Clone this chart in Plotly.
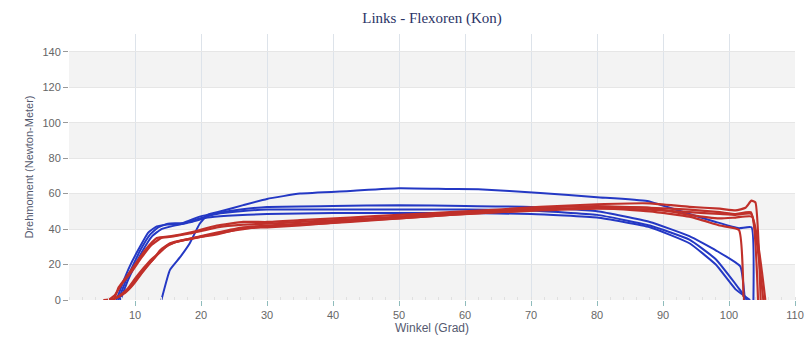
import plotly.graph_objects as go

# ---- data ----
blue1_x = [14, 15.3, 16.8, 18.3, 19.8, 21, 23, 26.4, 30, 35, 42.6, 50, 57.7, 62, 71.4, 80, 87.6, 94, 98, 101.5, 103.4, 103.7]
blue1_y = [0, 17, 24, 32, 43, 48, 50, 53.5, 57, 60, 61.5, 63, 62.6, 62.5, 60.3, 58, 55.8, 48.5, 44, 40.5, 41, 0]
blue2_x = [7.5, 8.5, 9.5, 10.8, 12.3, 13.5, 15, 17.3, 19.8, 22.4, 26, 30, 40, 50, 60, 70, 80, 88, 94, 98, 101.7, 102.4]
blue2_y = [0, 10, 18, 28, 37, 41, 43, 43.5, 47, 49, 51, 52.5, 53, 53.5, 53, 52.5, 50, 44, 36, 28, 19, 0]
blue3_x = [7.2, 8.3, 9.2, 10.6, 12, 13.3, 14.8, 17.3, 19.8, 22.4, 26, 30, 40, 50, 60, 70, 80, 88, 94, 98, 101, 102.8]
blue3_y = [0, 11, 19, 29, 38, 41.5, 42.5, 43, 46, 48.5, 50, 51, 51, 51, 51, 50.5, 48, 42, 34, 23, 9, 0]
blue4_x = [7.8, 8.8, 9.8, 11.2, 12.6, 14, 16, 18.5, 21, 24, 30, 40, 50, 60, 70, 80, 88, 94, 98, 101, 103.2]
blue4_y = [0, 10, 18, 28, 36, 40, 42, 44, 46.5, 47.5, 48.5, 49, 49, 49, 48.5, 46.5, 41, 32, 20, 6, 0]

red1_x = [5.5, 6.8, 7.5, 8.5, 10, 11.5, 13.3, 15.5, 18.3, 22.4, 26.4, 30, 35, 42.6, 50, 57.7, 65, 71.4, 80, 88, 94, 98.6, 101, 102.5, 103.4, 104, 104.8]
red1_y = [0, 0.5, 7, 12, 20, 28, 35, 36, 38, 42, 44, 44, 45, 46.5, 48, 49.5, 51, 52.5, 54, 54.5, 52.5, 51.5, 50.5, 52, 56, 55, 0]
red2_x = [6, 7, 8, 9.5, 11, 12.5, 14, 16, 18.3, 22.4, 26.4, 30, 35, 42.6, 50, 57.7, 65, 71.4, 80, 88, 94, 98.6, 101, 103.3, 105.2]
red2_y = [0, 3, 9, 16, 24, 31, 35, 36, 37.5, 41, 42.5, 43, 44, 45.5, 47, 49, 50.5, 52, 53, 52, 51, 49.5, 48.5, 49.5, 0]
red3_x = [5.2, 6.8, 8, 9.2, 10.5, 11.8, 13, 13.8, 15.3, 18.3, 22.4, 26.4, 30, 35, 42.6, 50, 57.7, 65, 71.4, 80, 88, 94, 98.6, 101, 103.5, 105.5]
red3_y = [0, 0.5, 3, 7, 13, 19, 24, 28, 32, 34.5, 38, 41, 42, 43, 45, 46.5, 48.5, 50, 51, 52, 52, 48, 46, 46.5, 47, 0]
red4_x = [6, 7, 8.5, 9.8, 11, 12.3, 13.5, 14.5, 16, 18.5, 22.4, 26.4, 30, 35, 42.6, 50, 57.7, 65, 71.4, 80, 88, 94, 98.6, 101.5, 102.2]
red4_y = [0, 1, 4, 9, 15, 21, 26, 29.5, 32.5, 34.5, 37.5, 40, 41.5, 42.5, 44, 46, 48, 49.5, 51, 52, 50, 47, 42, 39.5, 0]
red5_x = [6.3, 7.5, 8.8, 10, 11.3, 12.5, 13.8, 15, 16.5, 19, 22.4, 26.4, 30, 35, 42.6, 50, 57.7, 65, 71.4, 80, 88, 94, 98.6, 101, 103.4, 104.4]
red5_y = [0, 2, 6, 12, 18, 23, 27, 31, 33, 35, 37, 40.5, 41, 42, 44.5, 46, 48, 49.5, 50.5, 51.5, 51, 49.5, 48.5, 48, 48.5, 0]

x_ticks = [10, 20, 30, 40, 50, 60, 70, 80, 90, 100, 110]
y_ticks = [0, 20, 40, 60, 80, 100, 120, 140]
band_starts = [0, 40, 80, 120]

BLUE = "#2438c4"
RED = "#c0302a"

fig = go.Figure()
for xs, ys in [(blue1_x, blue1_y), (blue2_x, blue2_y), (blue3_x, blue3_y), (blue4_x, blue4_y)]:
    fig.add_trace(go.Scatter(x=xs, y=ys, mode="lines", line=dict(color=BLUE, width=2, shape="spline", smoothing=0.4),
                             showlegend=False, hoverinfo="skip", cliponaxis=False))
for xs, ys in [(red1_x, red1_y), (red2_x, red2_y), (red3_x, red3_y), (red4_x, red4_y), (red5_x, red5_y)]:
    fig.add_trace(go.Scatter(x=xs, y=ys, mode="lines", line=dict(color=RED, width=2.2, shape="spline", smoothing=0.4),
                             showlegend=False, hoverinfo="skip", cliponaxis=False))

for b in band_starts:
    fig.add_shape(type="rect", xref="paper", yref="y", x0=0, x1=1, y0=b, y1=b + 20,
                  fillcolor="#f3f3f3", line=dict(width=0), layer="below")

W, H = 806, 337
tick_font = dict(family="Liberation Sans, Arial, sans-serif", size=11, color="#666666")
title_font_axes = dict(family="Liberation Sans, Arial, sans-serif", color="#555a70")
fig.update_layout(
    width=W, height=H,
    margin=dict(l=69, r=11, t=34, b=37, autoexpand=False),
    paper_bgcolor="white", plot_bgcolor="white",
    title=dict(text="Links - Flexoren (Kon)", x=432 / W, xanchor="center", y=1 - 18 / H, yanchor="middle",
               font=dict(family="Liberation Serif, Times New Roman, serif", size=15, color="#2b3466")),
    xaxis=dict(range=[0, 110], tickvals=x_ticks, ticks="outside", ticklen=5, tickcolor="#8fbcbc",
               showgrid=True, gridcolor="#dde3ea", gridwidth=1, zeroline=False, showline=False,
               tickfont=tick_font, automargin=False,
               minor=dict(dtick=2, ticks="inside", ticklen=3, tickcolor="#e0e0e0", showgrid=False),
               title=dict(text="Winkel (Grad)", font=dict(size=12, **title_font_axes), standoff=0)),
    yaxis=dict(range=[0, 150], tickvals=y_ticks, ticks="outside", ticklen=5, tickcolor="#999999",
               showgrid=True, gridcolor="#e6e6e6", gridwidth=1, zeroline=False, showline=False,
               tickfont=tick_font, automargin=False,
               title=dict(text="Drehmoment (Newton-Meter)", font=dict(size=11, **title_font_axes), standoff=6)),
)

fig.write_html("out.html", config={"displayModeBar": False},
               post_script="document.body.style.margin='0';document.body.style.overflow='hidden';")
